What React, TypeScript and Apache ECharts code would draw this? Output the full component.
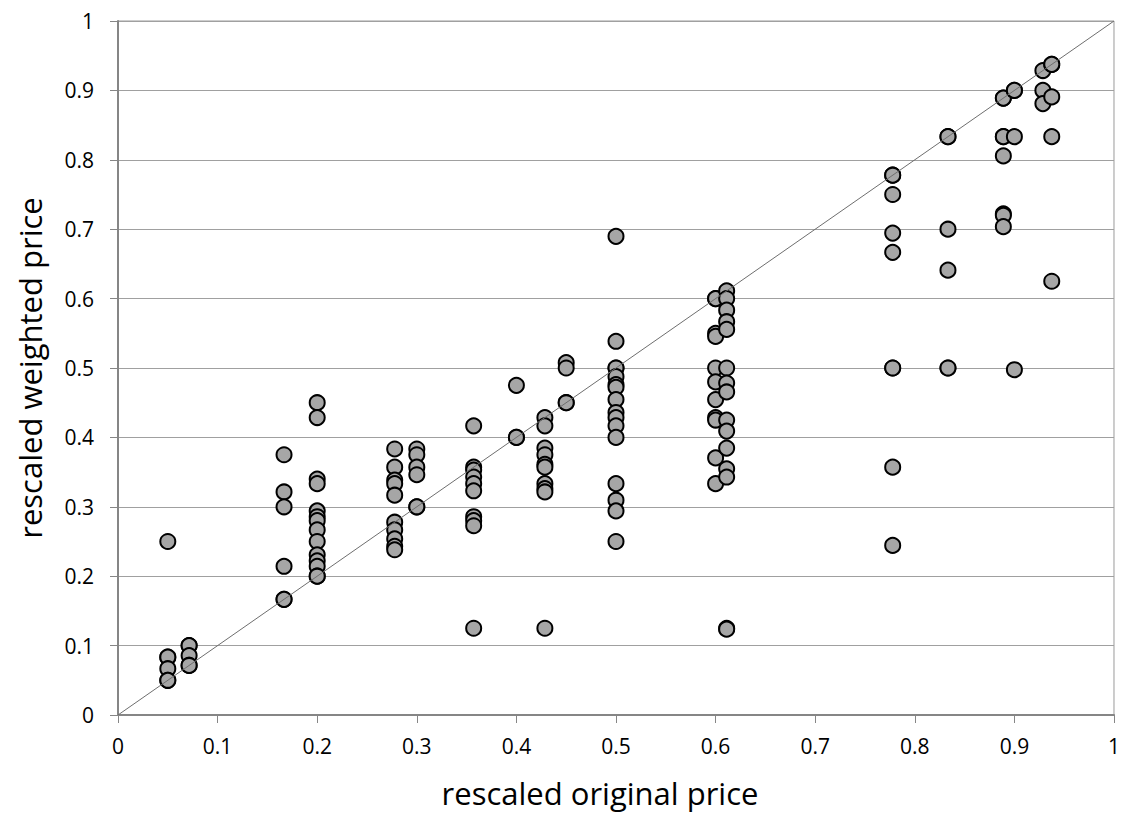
import React, { useEffect, useRef } from "react";
import * as echarts from "echarts";

// Columns of rescaled original price and the rescaled weighted prices observed at each
const colX: number[] = [
  0.05, 0.0714, 0.1667, 0.2, 0.2778, 0.3, 0.3571, 0.4, 0.4286, 0.45, 0.5, 0.6, 0.6111,
  0.7778, 0.8333, 0.8889, 0.9, 0.9286, 0.9375,
];
const colY: number[][] = [
  [0.25, 0.0833, 0.0833, 0.0667, 0.05, 0.05],
  [0.1, 0.1, 0.0857, 0.0714, 0.0714],
  [0.375, 0.3214, 0.3, 0.2143, 0.1667, 0.1667],
  [0.45, 0.4286, 0.34, 0.3333, 0.2941, 0.2857, 0.28, 0.2667, 0.25, 0.2308, 0.2222, 0.2143, 0.2, 0.2],
  [0.3833, 0.3571, 0.3385, 0.3333, 0.3167, 0.2778, 0.2667, 0.2537, 0.2431, 0.2381],
  [0.3833, 0.375, 0.3571, 0.3462, 0.3, 0.3],
  [0.4167, 0.3571, 0.3529, 0.3429, 0.3333, 0.3231, 0.2857, 0.28, 0.2727, 0.125],
  [0.475, 0.4, 0.4],
  [0.4286, 0.4167, 0.3846, 0.375, 0.3611, 0.3571, 0.3333, 0.3261, 0.3214, 0.125],
  [0.5077, 0.5, 0.45, 0.45],
  [0.6897, 0.5385, 0.5, 0.5, 0.4875, 0.4762, 0.4722, 0.4545, 0.4359, 0.4286, 0.4167, 0.4, 0.3333, 0.3095, 0.2941, 0.25],
  [0.6, 0.6, 0.55, 0.5455, 0.5, 0.48, 0.4545, 0.4286, 0.425, 0.3704, 0.3333],
  [0.6111, 0.6, 0.5833, 0.5667, 0.5556, 0.5, 0.4783, 0.4655, 0.425, 0.4091, 0.3846, 0.3548, 0.3429, 0.125, 0.1237],
  [0.7778, 0.7778, 0.75, 0.6944, 0.6667, 0.5, 0.5, 0.3571, 0.2444],
  [0.8333, 0.8333, 0.7, 0.641, 0.5, 0.5],
  [0.8889, 0.8889, 0.8333, 0.8333, 0.8056, 0.7222, 0.72, 0.7037],
  [0.9, 0.9, 0.8333, 0.4975],
  [0.9286, 0.9, 0.881],
  [0.9375, 0.9375, 0.8906, 0.8333, 0.625],
];
const diagonal: number[][] = [
  [0, 0],
  [1, 1],
];
const xTickLabels: string[] = ["0", "0.1", "0.2", "0.3", "0.4", "0.5", "0.6", "0.7", "0.8", "0.9", "1"];
const yTickLabels: string[] = ["0", "0.1", "0.2", "0.3", "0.4", "0.5", "0.6", "0.7", "0.8", "0.9", "1"];
const xTitle = "rescaled original price";
const yTitle = "rescaled weighted price";

export default function App() {
  const ref = useRef<HTMLDivElement>(null);
  useEffect(() => {
    document.body.style.margin = "0";
    if (!ref.current) return;
    const chart = echarts.init(ref.current, null, { renderer: "svg" });
    const points: number[][] = [];
    colX.forEach((x, i) => colY[i].forEach((y) => points.push([x, y])));
    const axisColor = "#868686";
    const font = "Open Sans";
    chart.setOption({
      animation: false,
      backgroundColor: "#ffffff",
      grid: {
        left: 118,
        right: 7,
        top: 21,
        bottom: 106,
        show: true,
        borderColor: "#9a9a9a",
        borderWidth: 1,
        backgroundColor: "transparent",
      },
      xAxis: {
        type: "value",
        min: 0,
        max: 1,
        interval: 0.1,
        name: xTitle,
        nameLocation: "middle",
        nameGap: 62,
        nameTextStyle: { fontFamily: font, fontSize: 31, color: "#000", padding: [0, 32, 0, 0] },
        axisLine: { show: true, lineStyle: { color: axisColor, width: 2 } },
        axisTick: { show: true, length: 8, lineStyle: { color: axisColor, width: 1 } },
        axisLabel: {
          margin: 20,
          fontFamily: font,
          fontSize: 21,
          color: "#000",
          formatter: (_v: number, i: number) => xTickLabels[i],
        },
        splitLine: { show: false },
      },
      yAxis: {
        type: "value",
        min: 0,
        max: 1,
        interval: 0.1,
        name: yTitle,
        nameLocation: "middle",
        nameGap: 73,
        nameTextStyle: { fontFamily: font, fontSize: 31, color: "#000" },
        axisLine: { show: true, lineStyle: { color: axisColor, width: 2 } },
        axisTick: { show: true, length: 8, lineStyle: { color: axisColor, width: 1 } },
        axisLabel: {
          margin: 24,
          fontFamily: font,
          fontSize: 21,
          color: "#000",
          formatter: (_v: number, i: number) => yTickLabels[i],
        },
        splitLine: { show: true, lineStyle: { color: "#a0a0a0", width: 1 } },
      },
      series: [
        {
          type: "scatter",
          data: points,
          symbol: "circle",
          symbolSize: 15,
          itemStyle: { color: "#a6a6a6", borderColor: "#000000", borderWidth: 2, opacity: 1 },
          z: 2,
        },
        {
          type: "line",
          data: diagonal,
          symbol: "none",
          lineStyle: { color: "#6e6e6e", width: 1 },
          z: 3,
          silent: true,
        },
      ],
    });
    return () => chart.dispose();
  }, []);
  return <div ref={ref} style={{ width: 1123, height: 821 }} />;
}
